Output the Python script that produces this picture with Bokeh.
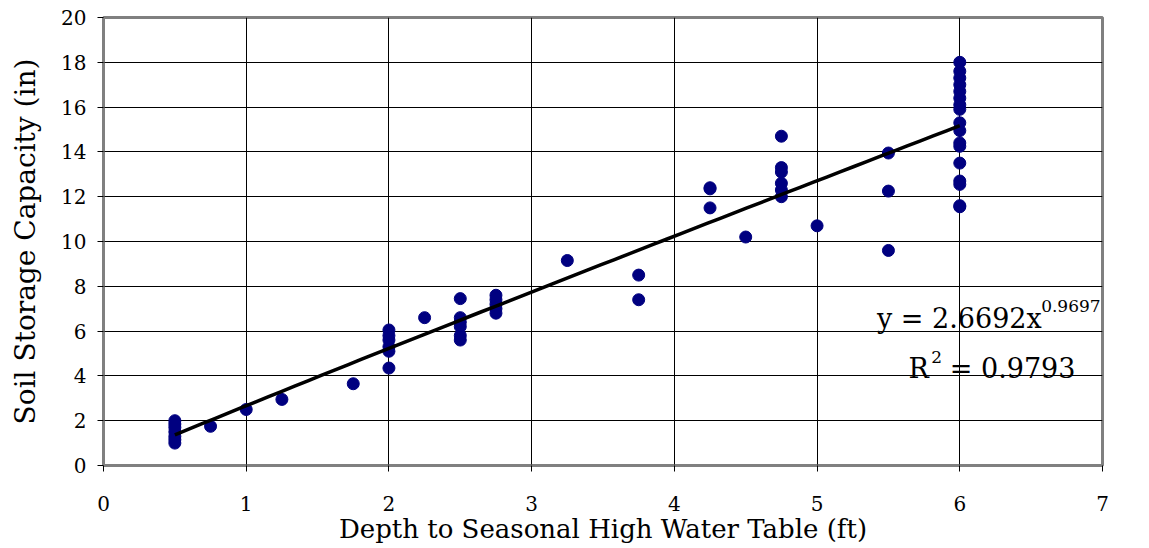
import numpy as np
from bokeh.plotting import figure
from bokeh.models import Range1d, FixedTicker
from bokeh.core.properties import value
from bokeh.embed import file_html
from bokeh.resources import INLINE

# depth (ft) and soil storage capacity (in)
depth = [0.5, 0.5, 0.5, 0.5, 0.5, 0.5, 0.5,
         0.75, 1.0, 1.25, 1.75,
         2.0, 2.0, 2.0, 2.0, 2.0, 2.0,
         2.25,
         2.5, 2.5, 2.5, 2.5, 2.5, 2.5,
         2.75, 2.75, 2.75, 2.75, 2.75,
         3.25, 3.75, 3.75,
         4.25, 4.25, 4.25, 4.5,
         4.75, 4.75, 4.75, 4.75, 4.75, 4.75,
         5.0, 5.5, 5.5, 5.5,
         6.0, 6.0, 6.0, 6.0, 6.0, 6.0, 6.0, 6.0, 6.0, 6.0, 6.0, 6.0, 6.0, 6.0, 6.0, 6.0, 6.0]
capacity = [1.0, 1.15, 1.3, 1.5, 1.7, 1.85, 2.0,
            1.75, 2.5, 2.95, 3.65,
            4.35, 5.1, 5.3, 5.6, 5.8, 6.05,
            6.6,
            5.6, 5.8, 6.2, 6.4, 6.6, 7.45,
            6.8, 7.0, 7.2, 7.4, 7.6,
            9.15, 7.4, 8.5,
            11.5, 12.35, 12.4, 10.2,
            12.0, 12.3, 12.6, 13.1, 13.3, 14.7,
            10.7, 9.6, 12.25, 13.95,
            11.55, 11.6, 12.55, 12.7, 13.5, 14.25, 14.4, 14.95, 15.3,
            15.9, 16.1, 16.4, 16.7, 17.0, 17.3, 17.6, 18.0]

# power trendline y = a * x^b (from the chart annotation)
trend_a = 2.6692
trend_b = 0.9697
trend_r2 = 0.9793

x_ticks = [0, 1, 2, 3, 4, 5, 6, 7]
y_ticks = [0, 2, 4, 6, 8, 10, 12, 14, 16, 18, 20]

FONT = "DejaVu Serif"

p = figure(width=1149, height=548, output_backend="svg", toolbar_location=None,
           x_range=Range1d(0, 7), y_range=Range1d(0, 20),
           min_border_left=103, min_border_right=47, min_border_top=17, min_border_bottom=83)

p.outline_line_color = "#808080"
p.outline_line_width = 3
p.background_fill_color = "white"
p.border_fill_color = "white"

for ax in (p.xaxis[0], p.yaxis[0]):
    ax.axis_line_color = "#808080"
    ax.axis_line_width = 2
    ax.major_tick_line_color = "black"
    ax.major_tick_out = 6
    ax.major_tick_in = 0
    ax.minor_tick_line_color = None
    ax.major_label_text_font = FONT
    ax.major_label_text_font_size = "20px"
    ax.major_label_text_color = "black"
    ax.axis_label_text_font = FONT
    ax.axis_label_text_font_style = "normal"
    ax.axis_label_text_color = "black"

p.xaxis.axis_label_text_font_size = "26px"
p.yaxis.axis_label_text_font_size = "28px"
p.xaxis.ticker = FixedTicker(ticks=x_ticks)
p.yaxis.ticker = FixedTicker(ticks=y_ticks)
p.xaxis.axis_label = "Depth to Seasonal High Water Table (ft)"
p.yaxis.axis_label = "Soil Storage Capacity (in)"
p.xaxis.major_label_standoff = 24
p.xaxis.axis_label_standoff = 0
p.yaxis.major_label_standoff = 11
p.yaxis.axis_label_standoff = 16

p.xgrid.grid_line_color = "black"
p.ygrid.grid_line_color = "black"
p.xgrid.grid_line_width = 1
p.ygrid.grid_line_width = 1

p.scatter(depth, capacity, marker="circle", size=12, fill_color="#000080", line_color="#000080")

xs = np.linspace(min(depth), max(depth), 60)
ys = trend_a * xs ** trend_b
p.line(xs, ys, line_color="black", line_width=3.5)

p.text([5.42], [6.58], text=["y = %.4fx" % trend_a], text_font=value(FONT),
       text_font_size="27px", text_color="black", text_baseline="alphabetic")
p.text([6.57], [7.1], text=["%.4f" % trend_b], text_font=value(FONT),
       text_font_size="17px", text_color="black", text_baseline="alphabetic")
p.text([5.64], [4.33], text=["R"], text_font=value(FONT),
       text_font_size="27px", text_color="black", text_baseline="alphabetic")
p.text([5.80], [4.85], text=["2"], text_font=value(FONT),
       text_font_size="17px", text_color="black", text_baseline="alphabetic")
p.text([5.93], [4.33], text=["= %.4f" % trend_r2], text_font=value(FONT),
       text_font_size="27px", text_color="black", text_baseline="alphabetic")

open("out.html", "w").write(file_html(p, INLINE))
